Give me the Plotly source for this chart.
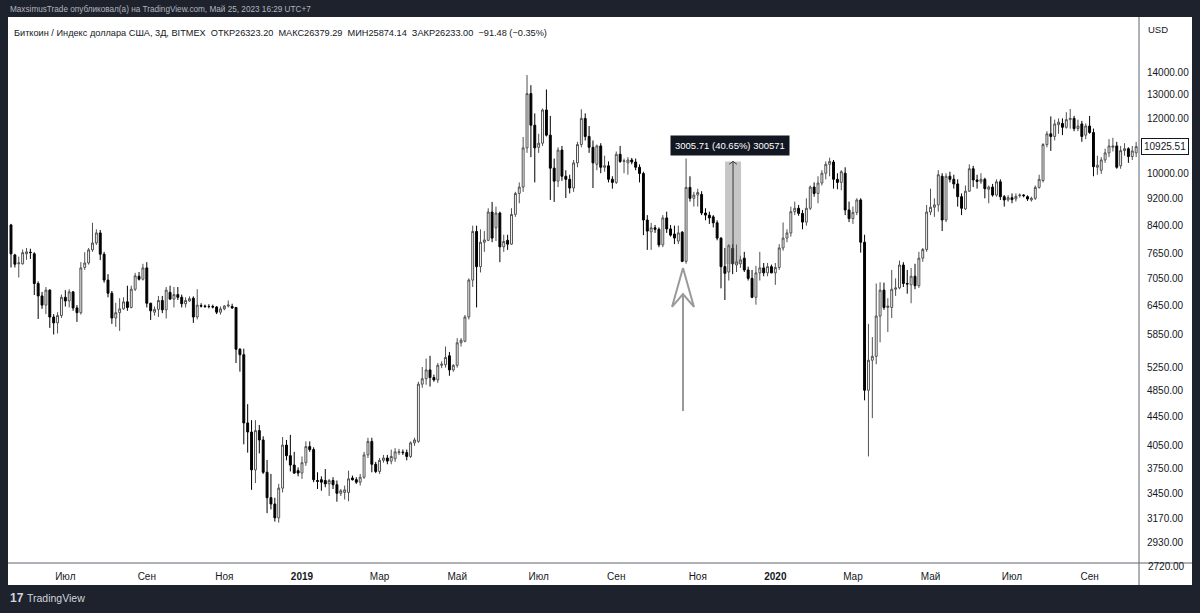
import numpy as np
import pandas as pd
import plotly.graph_objects as go

# ---------------- data (3-day candles, BITMEX BTC/USD index) ----------------
start_date = "2018-05-21"

opens = [
    8420, 7620, 7400, 7400, 7650, 7690, 7650, 6930, 6650, 6450,
    6780, 6200, 6080, 6230, 6620, 6540, 6740, 6390, 6290, 7310,
    7420, 7750, 7930, 8200, 7640, 7010, 6710, 6180, 6290, 6370,
    6520, 6400, 6800, 7100, 7030, 7300, 6490, 6300, 6360, 6550,
    6350, 6730, 6580, 6680, 6620, 6480, 6540, 6600, 6200, 6440,
    6430, 6420, 6420, 6410, 6300, 6370, 6430, 6420, 6400, 5570,
    5470, 4360, 4230, 3730, 4250, 4120, 3700, 3400, 3330, 3180,
    3510, 4050, 3910, 3790, 3720, 3690, 3820, 4030, 3990, 3600,
    3610, 3600, 3560, 3600, 3550, 3450, 3460, 3460, 3630, 3610,
    3580, 3640, 3920, 4100, 3800, 3710, 3850, 3880, 3840, 3870,
    3950, 3955, 3950, 3900, 4080, 4100, 4960, 5050, 5200, 5070,
    5030, 5280, 5290, 5450, 5200, 5280, 5690, 5720, 6200, 7010,
    8240, 7330, 7950, 8000, 8790, 8340, 8760, 7830, 8000, 7900,
    8720, 9350, 9550, 10880, 13030, 11730, 10900, 11050, 12340, 11350,
    10170, 9740, 10800, 9900, 9800, 9520, 10350, 11000, 12000, 11300,
    10900, 10300, 10950, 10200, 10250, 9800, 9700, 10650, 10400, 10350,
    10450, 10380, 10200, 9990, 8560, 8230, 8340, 8300, 7880, 8620,
    8310, 8170, 7980, 8220, 7460, 9540, 9200, 9300, 9320, 8760,
    8700, 8650, 8480, 8060, 7330, 7200, 7790, 7370, 7400, 7540,
    7250, 7050, 6620, 7180, 7300, 7180, 7330, 7180, 7310, 7800,
    8060, 8200, 8800, 8900, 8750, 8500, 8900, 9550, 9350, 9680,
    10000, 10300, 10380, 9800, 9700, 10000, 8850, 8600, 8780, 9150,
    7950, 4860, 5370, 5440, 6220, 6780, 6400, 6400, 6800, 6830,
    7370, 6930, 6900, 7100, 6880, 7540, 7760, 8790, 8930, 9000,
    9900, 8560, 9900, 9800, 9650, 9250, 8880, 9420, 10150, 9780,
    9720, 9800, 9480, 9550, 9300, 9720, 9250, 9150, 9220, 9180,
    9280, 9300, 9250, 9150, 9200, 9540, 9760, 11000, 11400, 11300,
    11750, 11800, 11650, 11950, 12000, 11600, 11780, 11350, 11700, 11450,
    10200, 10100, 10450, 10700, 10900, 10950, 10250, 10780, 10850, 10570, 10700,
]

highs = [
    8450, 7650, 7580, 7760, 7800, 7780, 7690, 6980, 6740, 6850,
    6800, 6260, 6300, 6680, 6780, 6800, 6760, 6450, 7440, 7690,
    7800, 8480, 8300, 8280, 7700, 7150, 6760, 6500, 6600, 6620,
    6880, 6880, 7180, 7200, 7400, 7440, 6500, 6420, 6650, 6650,
    6850, 6880, 6850, 6850, 6680, 6620, 6640, 6640, 6800, 6490,
    6460, 6470, 6460, 6430, 6420, 6450, 6550, 6480, 6410, 5590,
    5580, 4640, 4400, 4400, 4330, 4170, 3855, 3680, 3400, 3560,
    4160, 4120, 4190, 3960, 3760, 3900, 4100, 4100, 4020, 3700,
    3650, 3740, 3620, 3640, 3600, 3500, 3540, 3720, 3660, 3640,
    3680, 3960, 4150, 4150, 3830, 3880, 3920, 3920, 3990, 4010,
    4000, 3990, 3990, 4100, 4150, 5000, 5250, 5400, 5450, 5120,
    5320, 5350, 5620, 5520, 5300, 5780, 5780, 6240, 7050, 8400,
    8400, 8300, 8250, 8900, 9090, 8950, 8800, 8150, 8150, 8900,
    9400, 9700, 11280, 13860, 13400, 12200, 11400, 12400, 13210, 12100,
    10500, 10900, 10950, 10100, 9950, 10450, 11100, 12370, 12200, 11700,
    11150, 11000, 11050, 10600, 10400, 9900, 10750, 10950, 10500, 10550,
    10520, 10500, 10300, 10050, 8700, 8480, 8420, 8350, 8700, 8800,
    8420, 8400, 8400, 8250, 10500, 9900, 9400, 9500, 9420, 8900,
    8800, 8700, 8550, 8080, 7800, 7900, 7900, 7890, 7600, 7700,
    7330, 7250, 7350, 7700, 7420, 7420, 7380, 7420, 7900, 8490,
    8300, 8950, 9100, 9000, 8850, 9200, 9600, 9700, 9900, 10100,
    10400, 10530, 10450, 10000, 10100, 10200, 9100, 8950, 9200, 9200,
    8150, 6060, 5800, 6930, 6960, 6950, 6600, 7250, 7050, 7480,
    7440, 7250, 7300, 7400, 7700, 7800, 9000, 9500, 9200, 10100,
    10000, 10000, 10050, 9950, 9800, 9350, 9600, 10300, 10250, 9950,
    10000, 9850, 9600, 9650, 9800, 9800, 9300, 9300, 9350, 9350,
    9350, 9330, 9290, 9250, 9600, 9950, 11050, 11500, 12080, 11950,
    12000, 12000, 12250, 12380, 12100, 11950, 11900, 11800, 12100, 11600,
    10600, 10550, 10850, 11200, 11250, 11100, 10950, 11050, 10900, 10950, 11100,
]

lows = [
    7310, 7310, 7070, 7380, 7500, 7520, 6670, 6160, 6370, 6260,
    5980, 5850, 5870, 6180, 6420, 6400, 6330, 6100, 6250, 7250,
    7380, 7700, 7880, 7490, 6950, 6620, 6060, 6000, 5920, 6350,
    6330, 6380, 6760, 7000, 7000, 6400, 6140, 6230, 6200, 6280,
    6170, 6560, 6400, 6560, 6400, 6400, 6520, 6080, 6150, 6400,
    6390, 6380, 6380, 6260, 6250, 6340, 6400, 6370, 5320, 5170,
    4060, 3950, 3490, 3570, 3940, 3680, 3230, 3270, 3140, 3130,
    3460, 3850, 3710, 3680, 3650, 3620, 3780, 3960, 3580, 3500,
    3480, 3520, 3420, 3500, 3355, 3420, 3380, 3360, 3600, 3560,
    3540, 3620, 3880, 3700, 3690, 3680, 3820, 3800, 3800, 3830,
    3920, 3920, 3850, 3880, 4040, 4080, 4900, 4950, 4920, 5000,
    4980, 5230, 5240, 5100, 5170, 5240, 5620, 5700, 6150, 6850,
    6400, 7190, 7700, 7980, 7950, 7980, 7440, 7700, 7750, 7880,
    8650, 9050, 9400, 10700, 10550, 9700, 10700, 10950, 11300, 9150,
    9090, 9550, 9750, 9210, 9350, 9400, 10200, 10900, 11150, 10700,
    9520, 10100, 10000, 10050, 9700, 9500, 9650, 10350, 10000, 9950,
    10300, 10100, 9700, 8140, 7750, 7750, 8200, 7820, 7820, 8200,
    8100, 7900, 7900, 7440, 7400, 9100, 8950, 8950, 8700, 8550,
    8450, 8350, 8000, 6820, 6560, 7000, 7150, 7200, 7300, 7200,
    7000, 6600, 6460, 7000, 7100, 7100, 7170, 6900, 7250, 7730,
    7950, 8100, 8700, 8680, 8300, 8400, 8850, 9250, 9050, 9600,
    9800, 9900, 9500, 9480, 9450, 8700, 8500, 8450, 8700, 7680,
    4700, 3900, 4430, 5300, 5700, 6350, 5900, 6180, 6650, 6800,
    6850, 6700, 6490, 6800, 6830, 7450, 7700, 8700, 8650, 8800,
    8250, 8500, 9700, 9500, 8950, 8700, 8850, 9400, 9550, 9500,
    9650, 9200, 9050, 9250, 9250, 9150, 8950, 9100, 9050, 9100,
    9220, 9230, 9120, 9100, 9150, 9500, 9700, 10900, 10770, 11150,
    11400, 11350, 11600, 11600, 11500, 11500, 11100, 11200, 11400, 9900,
    9950, 9980, 10350, 10550, 10750, 10150, 10150, 10600, 10350, 10450, 10550,
]

closes = [
    7650, 7390, 7420, 7680, 7700, 7680, 6930, 6650, 6450, 6780,
    6200, 6080, 6230, 6620, 6540, 6740, 6390, 6290, 7300, 7420,
    7750, 7930, 8200, 7640, 7010, 6710, 6180, 6290, 6370, 6520,
    6400, 6800, 7110, 7030, 7300, 6490, 6330, 6360, 6550, 6350,
    6780, 6580, 6680, 6620, 6480, 6550, 6590, 6200, 6450, 6430,
    6420, 6420, 6410, 6300, 6370, 6430, 6450, 6390, 5570, 5470,
    4360, 4230, 3730, 4250, 4120, 3700, 3400, 3330, 3180, 3510,
    4050, 3910, 3790, 3690, 3690, 3820, 4030, 3990, 3610, 3590,
    3580, 3560, 3600, 3550, 3450, 3480, 3490, 3620, 3610, 3580,
    3640, 3920, 4100, 3800, 3710, 3850, 3880, 3840, 3900, 3960,
    3960, 3950, 3900, 4080, 4120, 4960, 5050, 5200, 5070, 5030,
    5280, 5300, 5420, 5200, 5280, 5690, 5740, 6200, 7010, 8240,
    7330, 7950, 8010, 8790, 8060, 8760, 7830, 7970, 7900, 8720,
    9350, 9550, 10880, 13030, 11730, 10880, 11050, 12340, 11350, 10170,
    9740, 10800, 9900, 9800, 9520, 10350, 11000, 12000, 11300, 10900,
    10350, 10950, 10200, 10250, 9800, 9700, 10650, 10400, 10420, 10450,
    10380, 10200, 9990, 8560, 8250, 8340, 8300, 7880, 8620, 8310,
    8140, 8060, 8200, 7460, 9540, 9200, 9300, 9380, 8760, 8700,
    8620, 8480, 8060, 7330, 7170, 7860, 7400, 7450, 7500, 7250,
    7050, 6620, 7180, 7300, 7180, 7330, 7180, 7310, 7800, 8060,
    8200, 8800, 8900, 8750, 8500, 8900, 9550, 9350, 9680, 10000,
    10300, 10400, 9800, 9700, 10050, 8850, 8600, 8780, 9150, 7950,
    4860, 5370, 5440, 6220, 6780, 6400, 6430, 6800, 6830, 7370,
    6930, 6920, 7100, 6880, 7540, 7760, 8790, 8930, 9000, 9950,
    8560, 9900, 9800, 9650, 9250, 8900, 9420, 10150, 9780, 9730,
    9800, 9500, 9550, 9300, 9720, 9250, 9150, 9220, 9160, 9260,
    9300, 9280, 9180, 9200, 9540, 9800, 11000, 11400, 11300, 11780,
    11850, 11650, 11950, 12000, 11600, 11700, 11300, 11700, 11450, 10220,
    10270, 10450, 10700, 10950, 10950, 10200, 10780, 10850, 10570, 10770, 10925.51,
]

# 11000 sits under the last-price box, so it is not listed
price_ticks = [2930, 3170, 3450, 3750, 4050, 4450, 4850, 5250, 5850, 6450,
               7050, 7650, 8400, 9200, 10000, 12000, 13000, 14000]
month_starts = ["2018-07-01", "2018-09-01", "2018-11-01", "2019-01-01", "2019-03-01",
                "2019-05-01", "2019-07-01", "2019-09-01", "2019-11-01", "2020-01-01",
                "2020-03-01", "2020-05-01", "2020-07-01", "2020-09-01"]
month_labels = ["Июл", "Сен", "Ноя", "<b>2019</b>", "Мар", "Май", "Июл", "Сен", "Ноя",
                "<b>2020</b>", "Мар", "Май", "Июл", "Сен"]

# measurement tool (price range) and hand-drawn arrow
measure_low = 7394.5
measure_high = 10400.2
measure_label = "3005.71 (40.65%) 300571"
last_price = 10925.51

# ---------------- figure ----------------
D0 = pd.Timestamp(start_date)
dates = pd.date_range(start_date, periods=len(opens), freq="3D")

def day(offset):
    return D0 + pd.Timedelta(days=offset)

# tick at first bar of each month (TradingView style)
tick_dates = []
for m in month_starts:
    ms = pd.Timestamp(m)
    tick_dates.append(dates[dates >= ms][0])

FONT = "Liberation Sans"
DARK = "#131722"

fig = go.Figure()
fig.add_trace(go.Candlestick(
    x=dates, open=opens, high=highs, low=lows, close=closes,
    increasing=dict(line=dict(color="#505050", width=1), fillcolor="#ffffff"),
    decreasing=dict(line=dict(color="#000000", width=1), fillcolor="#000000"),
    whiskerwidth=0, hoverinfo="skip", showlegend=False,
))

# measurement rectangle
mx0, mx1, mc = day(552.1), day(564.5), day(558.3)
fig.add_trace(go.Scatter(
    x=[mx0, mx1, mx1, mx0, mx0],
    y=[measure_low, measure_low, measure_high, measure_high, measure_low],
    mode="lines", fill="toself", fillcolor="rgba(120,120,120,0.42)",
    line=dict(width=0), hoverinfo="skip", showlegend=False))
fig.add_trace(go.Scatter(
    x=[mc, mc], y=[measure_low, measure_high], mode="lines",
    line=dict(color="#3a3a3a", width=1), hoverinfo="skip", showlegend=False))
fig.add_trace(go.Scatter(
    x=[day(555.3), mc, day(561.3)], y=[10300, measure_high, 10300], mode="lines",
    line=dict(color="#3a3a3a", width=1), hoverinfo="skip", showlegend=False))

# hand-drawn arrow
a_c, a_l, a_r = day(519.6), day(511.1), day(528.1)
fig.add_trace(go.Scatter(
    x=[a_l, a_c, a_r, a_c, a_l], y=[6411, 7297, 6411, 6693, 6411], mode="lines",
    line=dict(color="#9a9a9a", width=2), hoverinfo="skip", showlegend=False))
fig.add_trace(go.Scatter(
    x=[a_c, a_c], y=[6693, 4536], mode="lines",
    line=dict(color="#9a9a9a", width=2), hoverinfo="skip", showlegend=False))

# ---------------- layout ----------------
L, R, T, B = 8, 61, 17, 50
W, H = 1200, 613
pw, ph = W - L - R, H - T - B

def px(xp):
    return (xp - L) / pw

def py(yp):
    return (H - B - yp) / ph

y_lo = np.log10(2736.6)
y_hi = np.log10(16810)

fig.update_layout(
    width=W, height=H,
    margin=dict(l=L, r=R, t=T, b=B),
    paper_bgcolor="#1e222d", plot_bgcolor="#ffffff",
    font=dict(family=FONT, color=DARK, size=10),
    xaxis=dict(
        type="date", range=[day(-2.32), day(872.2)],
        tickvals=tick_dates, ticktext=month_labels,
        showgrid=False, zeroline=False, showline=False,
        ticks="outside", ticklen=4, tickcolor="rgba(0,0,0,0)",
        tickfont=dict(size=10, color=DARK, family=FONT),
        rangeslider=dict(visible=False), fixedrange=True,
    ),
    yaxis=dict(
        type="log", range=[y_lo, y_hi], side="right",
        tickvals=price_ticks, ticktext=[f"{v:.2f}" for v in price_ticks],
        showgrid=False, zeroline=False, showline=False,
        ticks="outside", ticklen=5, tickcolor="rgba(0,0,0,0)",
        tickfont=dict(size=10, color=DARK, family=FONT),
    ),
    shapes=[
        dict(type="rect", xref="paper", yref="paper", x0=0, x1=px(1192), y0=py(585), y1=1,
             fillcolor="#ffffff", line=dict(width=0), layer="below"),
        dict(type="line", xref="paper", yref="paper", x0=1, x1=1, y0=py(585), y1=1,
             line=dict(color="#62656e", width=1), layer="above"),
        dict(type="line", xref="paper", yref="paper", x0=0, x1=px(1192), y0=0, y1=0,
             line=dict(color="#62656e", width=1), layer="above"),
    ],
)

ann = []
ann.append(dict(xref="paper", yref="paper", x=px(8), y=py(9), xanchor="left", yanchor="middle",
                text="MaxsimusTrade опубликовал(а) на TradingView.com, Май 25, 2023 16:29 UTC+7",
                showarrow=False, font=dict(size=8.2, color="#b2b5be", family=FONT)))
ann.append(dict(xref="paper", yref="paper", x=px(12), y=py(33), xanchor="left", yanchor="middle",
                text="Биткоин / Индекс доллара США, 3Д, BITMEX  ОТКР26323.20  МАКС26379.29  "
                     "МИН25874.14  ЗАКР26233.00  −91.48 (−0.35%)",
                showarrow=False, font=dict(size=9.2, color=DARK, family=FONT)))
ann.append(dict(xref="paper", yref="paper", x=px(1146), y=py(29), xanchor="left", yanchor="middle",
                text="USD", showarrow=False, font=dict(size=9.5, color=DARK, family=FONT)))
ann.append(dict(xref="paper", yref="paper", x=px(1146), y=py(566), xanchor="left", yanchor="middle",
                text="2720.00", showarrow=False, font=dict(size=10, color=DARK, family=FONT)))
ann.append(dict(xref="paper", yref="y", x=px(1141), y=np.log10(last_price), xanchor="left",
                yanchor="middle", text=f"{last_price:.2f}", showarrow=False,
                bgcolor="#ffffff", bordercolor=DARK, borderwidth=1, borderpad=2,
                font=dict(size=10, color=DARK, family=FONT)))
ann.append(dict(xref="x", yref="y", x=day(556.3), y=np.log10(10970), xanchor="center",
                yanchor="middle", text=measure_label, showarrow=False,
                bgcolor="#131722", borderpad=4,
                font=dict(size=9.5, color="#ffffff", family=FONT)))
ann.append(dict(xref="paper", yref="paper", x=px(8), y=py(598), xanchor="left", yanchor="middle",
                text="<b>17</b>", showarrow=False, font=dict(size=12, color="#d1d4dc", family=FONT)))
ann.append(dict(xref="paper", yref="paper", x=px(25), y=py(598), xanchor="left", yanchor="middle",
                text="TradingView", showarrow=False, font=dict(size=10.5, color="#d1d4dc", family=FONT)))
fig.update_layout(annotations=ann)

fig.write_html("out.html")
